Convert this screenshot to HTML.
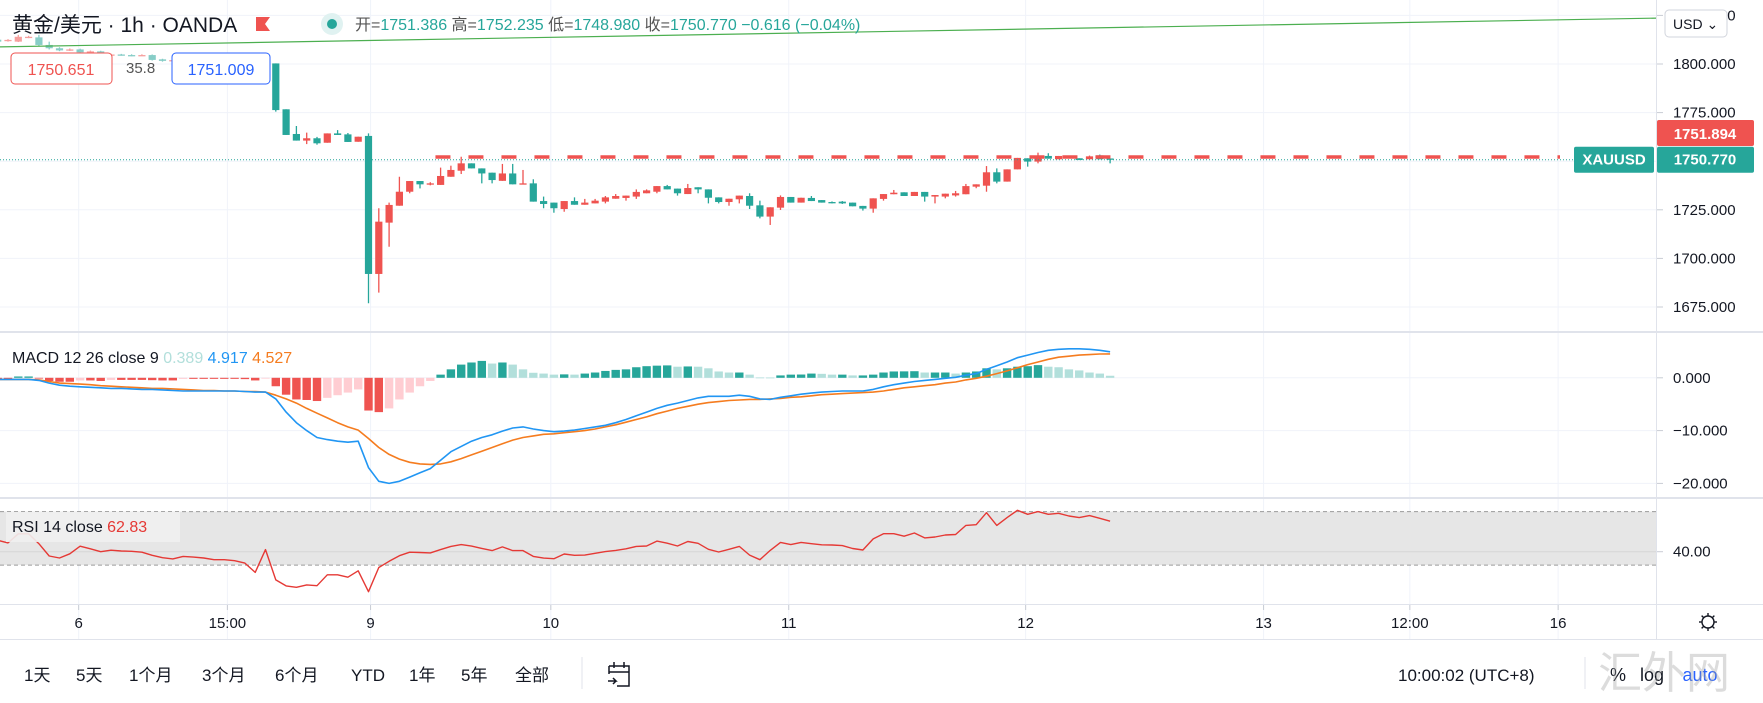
<!DOCTYPE html>
<html><head><meta charset="utf-8">
<style>
html,body{margin:0;padding:0;background:#fff;}
svg{display:block;font-family:"Liberation Sans","Noto Sans CJK SC",sans-serif;}
</style></head>
<body>
<svg id="chart" width="1763" height="703" viewBox="0 0 1763 703" xmlns="http://www.w3.org/2000/svg">
<rect x="0" y="0" width="1763" height="703" fill="#ffffff"/>
<g id="grid"></g>
<g id="rsiBand"></g>
<g id="candles"></g>
<g id="macdHist"></g>
<g id="lines"></g>
<g id="overlay"></g>
<g id="axes"></g>
</svg>
<script>
// ---- data ----
const opens=[1812.5,1811.8,1811.5,1813.5,1813.7,1809.8,1808.1,1807.0,1807.5,1806.0,1806.5,1804.5,1804.9,1804.6,1804.4,1804.6,1802.4,1801.6,1802.0,1801.0,1800.8,1801.5,1800.6,1801.0,1800.5,1800.9,1800.4,
1800.3,1776.7,1764.0,1760.6,1761.8,1759.5,1764.3,1763.8,1760.0,1763.0,1692.0,1718.4,1727.1,1734.3,1739.8,1738.1,1737.8,1742.0,1745.1,1748.9,1746.3,1744.1,1739.9,1743.7,1738.1,1738.6,
1729.5,1728.7,1725.4,1729.5,1727.6,1728.3,1729.2,1730.7,1731.1,1731.8,1733.5,1734.3,1737.2,1735.9,1733.1,1736.6,1735.5,1731.4,1729.0,1730.4,1732.1,1727.3,1721.5,1726.1,1731.6,1728.7,1731.1,1730.0,1729.0,1729.2,1728.7,1727.0,1725.6,1730.6,1733.0,1734.0,1732.1,1734.2,1731.8,1731.8,1732.4,1733.0,1736.9,1737.4,1744.3,1739.5,1745.8,1751.5,1749.8,1752.7,1751.0,1752.7,1751.5,1751.0,1753.0,1751.4];
const highs=[1813.5,1812.8,1815.0,1814.5,1815.0,1811.5,1808.6,1808.0,1807.9,1806.9,1806.8,1805.3,1805.2,1805.0,1805.0,1804.9,1802.7,1802.4,1802.3,1801.3,1801.8,1801.7,1801.3,1801.2,1801.2,1801.1,1801.0,
1800.3,1776.7,1768.1,1764.7,1762.5,1764.3,1766.0,1764.5,1762.6,1764.3,1725.8,1728.7,1742.0,1739.8,1739.8,1739.2,1746.7,1747.7,1752.3,1748.9,1746.3,1744.1,1748.6,1748.6,1745.5,1740.7,
1731.8,1728.7,1729.5,1731.4,1730.6,1730.6,1732.1,1733.1,1732.3,1735.5,1735.5,1737.2,1737.8,1735.9,1738.3,1736.6,1735.5,1731.4,1730.7,1732.3,1733.5,1729.7,1726.3,1732.4,1731.6,1731.2,1732.1,1730.0,1729.3,1729.5,1728.7,1727.0,1730.9,1733.1,1735.2,1734.0,1734.2,1734.2,1732.6,1733.3,1734.7,1738.3,1738.1,1747.5,1746.3,1745.8,1751.7,1751.5,1754.4,1754.1,1752.7,1752.7,1751.5,1752.9,1753.4,1751.4];
const lows=[1811.0,1811.5,1811.3,1813.3,1809.0,1807.5,1806.6,1806.7,1805.6,1805.7,1804.7,1804.2,1804.3,1804.0,1804.1,1801.8,1801.2,1801.3,1800.7,1800.5,1800.5,1800.3,1800.3,1800.2,1800.2,1800.1,1800.1,
1775.5,1763.5,1760.6,1758.8,1758.5,1759.5,1763.5,1759.9,1760.0,1676.9,1682.4,1706.0,1727.1,1733.5,1736.0,1737.6,1737.8,1742.0,1743.4,1746.3,1738.6,1738.6,1739.9,1738.1,1738.1,1729.2,
1725.8,1723.5,1724.0,1727.6,1727.6,1728.3,1728.3,1730.7,1729.7,1730.6,1733.5,1733.5,1735.5,1732.3,1733.1,1733.5,1728.3,1728.3,1727.1,1728.3,1725.4,1720.6,1717.2,1724.9,1728.7,1728.7,1729.5,1728.7,1728.3,1728.0,1726.8,1724.6,1723.5,1729.7,1733.0,1732.1,1732.1,1729.2,1728.3,1730.9,1731.8,1733.0,1736.1,1734.3,1738.6,1739.5,1745.8,1747.2,1748.9,1751.3,1751.0,1751.5,1750.6,1751.0,1751.0,1748.9];
const closes=[1811.5,1812.4,1814.0,1814.0,1809.8,1808.1,1807.0,1807.5,1806.0,1806.5,1805.0,1804.9,1804.6,1804.4,1804.6,1802.1,1801.6,1802.0,1801.0,1800.8,1801.5,1800.6,1801.0,1800.5,1800.9,1800.4,1800.8,
1776.3,1763.5,1760.6,1761.8,1759.2,1764.3,1763.5,1759.9,1762.6,1692.0,1718.9,1727.5,1734.3,1739.8,1738.1,1738.6,1742.4,1745.5,1748.9,1746.3,1743.7,1740.3,1743.7,1738.1,1738.6,1729.2,
1728.0,1725.8,1729.5,1727.6,1728.7,1729.7,1731.4,1732.1,1732.3,1734.2,1735.0,1737.2,1735.5,1733.5,1736.2,1735.5,1731.2,1729.0,1730.7,1732.3,1727.1,1721.5,1726.3,1731.6,1728.7,1731.2,1729.5,1728.7,1728.7,1728.3,1726.8,1725.6,1730.9,1733.1,1733.8,1732.1,1734.2,1731.8,1732.6,1733.3,1733.5,1737.2,1738.1,1744.3,1739.5,1745.8,1751.7,1749.8,1752.7,1751.3,1752.7,1751.5,1750.6,1752.5,1751.0,1750.77];
const macdLine=[-0.3,-0.3,-0.3,-0.3,-0.5,-1.0,-1.4,-1.6,-1.7,-1.8,-1.9,-2.0,-2.0,-2.1,-2.2,-2.2,-2.3,-2.4,-2.5,-2.5,-2.5,-2.5,-2.5,-2.5,-2.6,-2.7,-2.7,-4.0,-6.5,-8.5,-10.0,-11.3,-11.7,-12.0,-12.2,-12.0,-17.0,-19.6,-20.0,-19.6,-18.8,-18.0,-17.2,-15.6,-14.0,-13.0,-12.0,-11.3,-10.8,-10.1,-9.5,-9.3,-9.7,-10.0,-10.2,-10.1,-9.9,-9.6,-9.3,-9.0,-8.5,-7.9,-7.2,-6.5,-5.8,-5.2,-4.8,-4.3,-3.8,-3.5,-3.5,-3.5,-3.3,-3.5,-4.0,-4.1,-3.7,-3.4,-3.1,-2.9,-2.7,-2.6,-2.5,-2.5,-2.5,-2.2,-1.7,-1.3,-1.0,-0.7,-0.5,-0.3,-0.1,0.1,0.5,0.8,1.6,2.3,3.0,3.8,4.3,4.8,5.2,5.4,5.5,5.5,5.4,5.2,4.917];
const signalLine=[-0.3,-0.3,-0.3,-0.3,-0.4,-0.7,-1.0,-1.1,-1.2,-1.3,-1.5,-1.6,-1.7,-1.8,-1.9,-2.0,-2.0,-2.1,-2.2,-2.3,-2.4,-2.4,-2.5,-2.5,-2.6,-2.6,-2.7,-3.3,-4.0,-4.8,-5.8,-6.7,-7.6,-8.5,-9.3,-9.9,-11.5,-13.2,-14.5,-15.4,-16.0,-16.3,-16.4,-16.3,-15.9,-15.3,-14.6,-13.9,-13.2,-12.5,-11.8,-11.3,-11.0,-10.7,-10.6,-10.4,-10.2,-10.0,-9.7,-9.3,-8.9,-8.4,-7.9,-7.4,-6.8,-6.3,-5.8,-5.4,-5.0,-4.7,-4.5,-4.3,-4.2,-4.1,-4.1,-4.0,-3.9,-3.7,-3.6,-3.4,-3.2,-3.1,-3.0,-2.9,-2.8,-2.7,-2.5,-2.2,-1.9,-1.7,-1.5,-1.3,-1.0,-0.8,-0.4,-0.1,0.3,0.8,1.3,1.9,2.5,3.0,3.5,3.9,4.1,4.3,4.4,4.5,4.527];
const histValues=[-0.1,-0.1,0.25,0.25,-0.1,-0.6,-0.75,-0.75,-0.5,-0.5,-0.6,-0.4,-0.4,-0.4,-0.4,-0.45,-0.5,-0.5,-0.2,-0.2,-0.2,-0.2,-0.2,-0.2,-0.25,-0.5,-0.05,-1.6,-3.2,-4.1,-4.2,-4.4,-3.8,-3.3,-2.8,-2.2,-6.2,-6.5,-5.8,-4.1,-2.8,-1.6,-0.6,0.6,1.6,2.5,2.9,3.2,2.7,2.9,2.5,1.6,0.95,0.8,0.6,0.65,0.6,0.8,1.0,1.3,1.5,1.6,2.0,2.2,2.3,2.35,2.1,2.15,2.1,1.8,1.2,1.0,1.0,0.6,0.06,0.05,0.45,0.6,0.62,0.8,0.75,0.6,0.6,0.45,0.45,0.6,1.0,1.2,1.22,1.25,1.0,1.0,1.0,0.8,1.0,1.2,1.8,1.6,1.8,2.1,2.2,2.4,2.1,2.0,1.6,1.4,1.0,0.8,0.389];
const rsiValues=[48.5,46.6,53.4,53.4,46.0,36.8,35.3,38.4,44.1,42.2,40.0,41.1,40.5,40.3,39.6,37.3,35.5,34.6,36.5,36.0,35.3,34.0,34.0,33.3,31.5,24.5,41.6,18.9,14.4,13.4,15.2,14.6,22.7,22.7,20.9,25.7,10.1,28.2,32.8,37.0,39.6,39.4,39.1,41.6,44.0,45.3,44.2,42.5,40.8,43.6,40.8,40.8,36.5,35.2,34.8,38.3,37.3,37.5,38.8,40.1,41.0,42.2,44.0,44.3,47.9,46.4,44.3,47.6,46.3,41.8,39.8,41.8,44.0,37.5,34.0,41.0,47.0,45.3,47.0,46.0,45.2,45.0,44.6,42.4,41.3,49.6,53.5,53.5,51.6,54.0,50.3,51.0,52.5,52.9,59.7,60.2,69.2,59.7,65.5,71.0,68.0,70.0,68.0,68.7,66.7,65.5,67.0,65.0,62.83];
const priceTicks=[1675,1700,1725,1750,1775,1800,1825];
const priceTickLabels=["1675.000","1700.000","1725.000","","1775.000","1800.000","1825.000"];
const macdTicks=[0,-10,-20];
const macdTickLabels=["0.000","\u221210.000","\u221220.000"];
const rsiTicks=[40];
const rsiTickLabels=["40.00"];
const timeTickPos=[7.86,22.3,36.2,53.7,76.8,99.8,122.9,137.1,151.5];
const timeTickLabels=["6","15:00","9","10","11","12","13","12:00","16"];
const lastPrice=1750.77;
const bidPrice=1751.894;
const trendStart=1808.8, trendEnd=1823.6;

// ---- scales ----
const NS="http://www.w3.org/2000/svg";
const PLOT_R=1657;
function xIdx(i){return -2.3+i*10.3;}
function yPrice(p){return 64+(1800-p)*1.944;}
function yMacd(v){return 377.8-v*5.28;}
function yRsi(r){return 511.6+(70-r)*1.337;}
function mk(tag,attrs,parent){const e=document.createElementNS(NS,tag);for(const k in attrs)e.setAttribute(k,attrs[k]);parent.appendChild(e);return e;}
const UP="#ef5350",DN="#26a69a";
const grid=document.getElementById('grid');
for(let t=0;t<timeTickPos.length;t++){
  const x=xIdx(timeTickPos[t]);
  const l=mk('line',{x1:x,x2:x,y1:0,y2:639,stroke:'#f0f3fa','stroke-width':1},grid);
  
  
}
for(let t=0;t<priceTicks.length;t++){
  const y=yPrice(priceTicks[t]);
  const l=mk('line',{x1:0,x2:PLOT_R,y1:y,y2:y,stroke:'#f0f3fa','stroke-width':1},grid);
  
  
}
for(let t=0;t<macdTicks.length;t++){
  const y=yMacd(macdTicks[t]);
  const l=mk('line',{x1:0,x2:PLOT_R,y1:y,y2:y,stroke:'#f0f3fa','stroke-width':1},grid);
  
  
}
const band=document.getElementById('rsiBand');
const bTop=yRsi(70),bBot=yRsi(30);
const br=mk('rect',{x:0,y:bTop,width:PLOT_R,height:bBot-bTop,fill:'#e6e6e6'},band);


[bTop,bBot].forEach(function(y){
  const l=mk('line',{x1:0,x2:PLOT_R,y1:y,y2:y,stroke:'#9a9a9a','stroke-width':1,'stroke-dasharray':'4 3'},band);
  
  
});
const rg=mk('line',{x1:0,x2:PLOT_R,y1:yRsi(40),y2:yRsi(40),stroke:'#d6d6d6','stroke-width':1},band);



const cg=document.getElementById('candles');
for(let i=0;i<opens.length;i++){
  const x=xIdx(i),o=opens[i],c=closes[i];
  const col=c>=o?UP:DN;
  const g=mk('g',{opacity:i<27?0.55:1},cg);
  
  
  mk('line',{x1:x,x2:x,y1:yPrice(highs[i]),y2:yPrice(lows[i]),stroke:col,'stroke-width':1.3},g);
  const yt=yPrice(Math.max(o,c)),yb=yPrice(Math.min(o,c));
  mk('rect',{x:x-3.6,y:yt,width:7.2,height:Math.max(1.3,yb-yt),fill:col},g);
}
const hg=document.getElementById('macdHist');
for(let i=0;i<histValues.length;i++){
  const h=histValues[i],p=i>0?histValues[i-1]:0;
  let col;
  if(h>=0)col=h>=p?'#26a69a':'#b2dfdb';else col=h<=p?'#ef5350':'#ffcdd2';
  const y0=yMacd(0),y1=yMacd(h);
  const r=mk('rect',{x:xIdx(i)-4.2,y:Math.min(y0,y1),width:8.4,height:Math.max(0.8,Math.abs(y1-y0)),fill:col},hg);
  
  
}
const lg=document.getElementById('lines');
function poly(vals,fy,col,name,w){
  let d='';
  for(let i=0;i<vals.length;i++)d+=(i?'L':'M')+xIdx(i).toFixed(1)+' '+fy(vals[i]).toFixed(1);
  const p=mk('path',{d:d,fill:'none',stroke:col,'stroke-width':w,'stroke-linejoin':'round'},lg);
  
  
}
poly(signalLine,yMacd,'#f57c1f','macd-signal-line',1.6);
poly(macdLine,yMacd,'#2196f3','macd-line',1.6);
poly(rsiValues,yRsi,'#e53935','rsi-line',1.4);

const ov=document.getElementById('overlay');
const tl=mk('line',{x1:0,y1:yPrice(trendStart),x2:PLOT_R,y2:yPrice(trendEnd),stroke:'#4caf50','stroke-width':1.2},ov);


const lp=mk('line',{x1:0,x2:PLOT_R,y1:yPrice(lastPrice),y2:yPrice(lastPrice),stroke:'#26a69a','stroke-width':1,'stroke-dasharray':'1 2'},ov);


const bp=mk('line',{x1:xIdx(42.5),x2:1560,y1:yPrice(bidPrice)-0.5,y2:yPrice(bidPrice)-0.5,stroke:'#ef5350','stroke-width':3.5,'stroke-dasharray':'15 18'},ov);


</script>
<script>
const ax=document.getElementById('axes');
let s='';
s+='<rect x="0" y="331" width="1763" height="2" fill="#e0e3eb"/>';
s+='<rect x="0" y="497" width="1763" height="2" fill="#e0e3eb"/>';
s+='<rect x="0" y="604" width="1763" height="1" fill="#e0e3eb"/>';
s+='<rect x="1656" y="0" width="1" height="639" fill="#e0e3eb"/>';
s+='<rect x="0" y="639" width="1763" height="1.5" fill="#e0e3eb"/>';
s+='<rect x="0" y="640" width="1763" height="63" fill="#ffffff"/>';
ax.innerHTML=s;
function txt(x,y,str,opt,name,inter){
  const t=document.createElementNS(NS,'text');
  t.setAttribute('x',x);t.setAttribute('y',y);
  for(const k in opt)t.setAttribute(k,opt[k]);
  t.textContent=str;
  
  
  ax.appendChild(t);return t;
}
for(let i=0;i<priceTicks.length;i++){
  if(!priceTickLabels[i])continue;
  const y=yPrice(priceTicks[i]);
  mk('line',{x1:1657,x2:1663,y1:y,y2:y,stroke:'#c8ccd4'},ax);
  txt(1673,y+5,priceTickLabels[i],{'font-size':15,fill:'#131722'},'price-tick-label',false);
}
for(let i=0;i<macdTicks.length;i++){
  const y=yMacd(macdTicks[i]);
  mk('line',{x1:1657,x2:1663,y1:y,y2:y,stroke:'#c8ccd4'},ax);
  txt(1673,y+5,macdTickLabels[i],{'font-size':15,fill:'#131722'},'macd-tick-label',false);
}
for(let i=0;i<rsiTicks.length;i++){
  const y=yRsi(rsiTicks[i]);
  mk('line',{x1:1657,x2:1663,y1:y,y2:y,stroke:'#c8ccd4'},ax);
  txt(1673,y+5,rsiTickLabels[i],{'font-size':15,fill:'#131722'},'rsi-tick-label',false);
}
for(let i=0;i<timeTickPos.length;i++){
  const x=xIdx(timeTickPos[i]);
  mk('line',{x1:x,x2:x,y1:605,y2:610,stroke:'#c8ccd4'},ax);
  txt(x,628,timeTickLabels[i],{'font-size':15,fill:'#131722','text-anchor':'middle'},'time-tick-label',false);
}
const yl=yPrice(lastPrice);
let r=mk('rect',{x:1657,y:120,width:97,height:26,fill:'#ef5350',rx:2},ax);


txt(1705,139,'1751.894',{'font-size':15,fill:'#fff','font-weight':'bold','text-anchor':'middle'},'bid-price-text',false);
r=mk('rect',{x:1657,y:yl-13,width:97,height:26,fill:'#26a69a',rx:2},ax);


txt(1705,yl+5,'1750.770',{'font-size':15,fill:'#fff','font-weight':'bold','text-anchor':'middle'},'last-price-text',false);
r=mk('rect',{x:1574,y:yl-13,width:80,height:26,fill:'#26a69a',rx:2},ax);


txt(1614,yl+5,'XAUUSD',{'font-size':15,fill:'#fff','font-weight':'bold','text-anchor':'middle'},'symbol-tag-text',false);
r=mk('rect',{x:1665,y:10,width:62,height:27,fill:'#fff',stroke:'#d1d4dc',rx:4},ax);


txt(1673,29,'USD \u2304',{'font-size':14,fill:'#131722'},'currency-dropdown-text',true);
txt(12,32,'黄金/美元 · 1h · OANDA',{'font-size':21,fill:'#131722'},'symbol-title',false);
mk('path',{d:'M256 17 h14 l-5 7 l5 7 h-14 z',fill:'#ef5350'},ax);
const dotc=mk('circle',{cx:332,cy:24,r:11,fill:'#e0f2f1'},ax);


mk('circle',{cx:332,cy:24,r:5,fill:'#26a69a'},ax);
const oh=txt(355,30,'',{'font-size':16,fill:'#26a69a'},'ohlc-legend',false);
[['开=','#555'],['1751.386 ','#26a69a'],['高=','#555'],['1752.235 ','#26a69a'],['低=','#555'],['1748.980 ','#26a69a'],['收=','#555'],['1750.770 ','#26a69a'],['\u22120.616 (\u22120.04%)','#26a69a']].forEach(function(a){const ts=document.createElementNS(NS,'tspan');ts.setAttribute('fill',a[1]);ts.textContent=a[0];oh.appendChild(ts);});
r=mk('rect',{x:11,y:53,width:101,height:31,fill:'#fff',stroke:'#ef5350',rx:4},ax);


txt(61,75,'1750.651',{'font-size':16,fill:'#ef5350','text-anchor':'middle'},'measure-start-price',false);
txt(126,73,'35.8',{'font-size':15,fill:'#555'},'measure-bars',false);
r=mk('rect',{x:172,y:53,width:98,height:31,fill:'#fff',stroke:'#2962ff',rx:4},ax);


txt(221,75,'1751.009',{'font-size':16,fill:'#2962ff','text-anchor':'middle'},'measure-end-price',false);
const ml=txt(12,363,'',{'font-size':16,fill:'#131722'},'macd-legend',false);
[['MACD 12 26 close 9  ','#131722'],['0.389  ','#b2dfdb'],['4.917  ','#2196f3'],['4.527','#f57c1f']].forEach(function(a){const ts=document.createElementNS(NS,'tspan');ts.setAttribute('fill',a[1]);ts.textContent=a[0];ml.appendChild(ts);});
r=mk('rect',{x:6,y:512,width:174,height:30,fill:'#f0f0f0',opacity:0.9},ax);


const rl=txt(12,532,'',{'font-size':16,fill:'#131722'},'rsi-legend',false);
[['RSI 14 close  ','#131722'],['62.83','#e53935']].forEach(function(a){const ts=document.createElementNS(NS,'tspan');ts.setAttribute('fill',a[1]);ts.textContent=a[0];rl.appendChild(ts);});
const gear=mk('g',{},ax);


mk('circle',{cx:1708,cy:622,r:6,fill:'none',stroke:'#131722','stroke-width':1.4},gear);
for(let k=0;k<8;k++){const a=k*Math.PI/4;mk('line',{x1:1708+6*Math.cos(a),y1:622+6*Math.sin(a),x2:1708+9*Math.cos(a),y2:622+9*Math.sin(a),stroke:'#131722','stroke-width':1.4},gear);}
const ranges=[['1天',24],['5天',76],['1个月',129],['3个月',202],['6个月',275],['YTD',351],['1年',409],['5年',461],['全部',515]];
ranges.forEach(function(a){txt(a[1],681,a[0],{'font-size':17,fill:'#131722'},'range-button-'+a[0],true);});
mk('line',{x1:582,x2:582,y1:657,y2:689,stroke:'#e0e3eb'},ax);
const cal=mk('g',{fill:'none',stroke:'#131722','stroke-width':1.5},ax);


mk('path',{d:'M609 666 h20 v20 h-12 M609 666 v8 M609 672 h20 M614 662 v6 M624 662 v6 M608 681 h8 l-3 -3 M616 681 l-3 3'},cal);
txt(1398,681,'10:00:02 (UTC+8)',{'font-size':17,fill:'#131722'},'clock',false);
mk('line',{x1:1585,x2:1585,y1:657,y2:689,stroke:'#e0e3eb'},ax);
txt(1618,681,'%',{'font-size':18,fill:'#131722','text-anchor':'middle'},'percent-button',true);
txt(1652,681,'log',{'font-size':18,fill:'#131722','text-anchor':'middle'},'log-button',true);
txt(1700,681,'auto',{'font-size':18,fill:'#2962ff','text-anchor':'middle'},'auto-button',true);
txt(1598,688,'汇外网',{'font-size':44,fill:'#9e9e9e','opacity':0.35},'watermark',false);
</script>
</body></html>
